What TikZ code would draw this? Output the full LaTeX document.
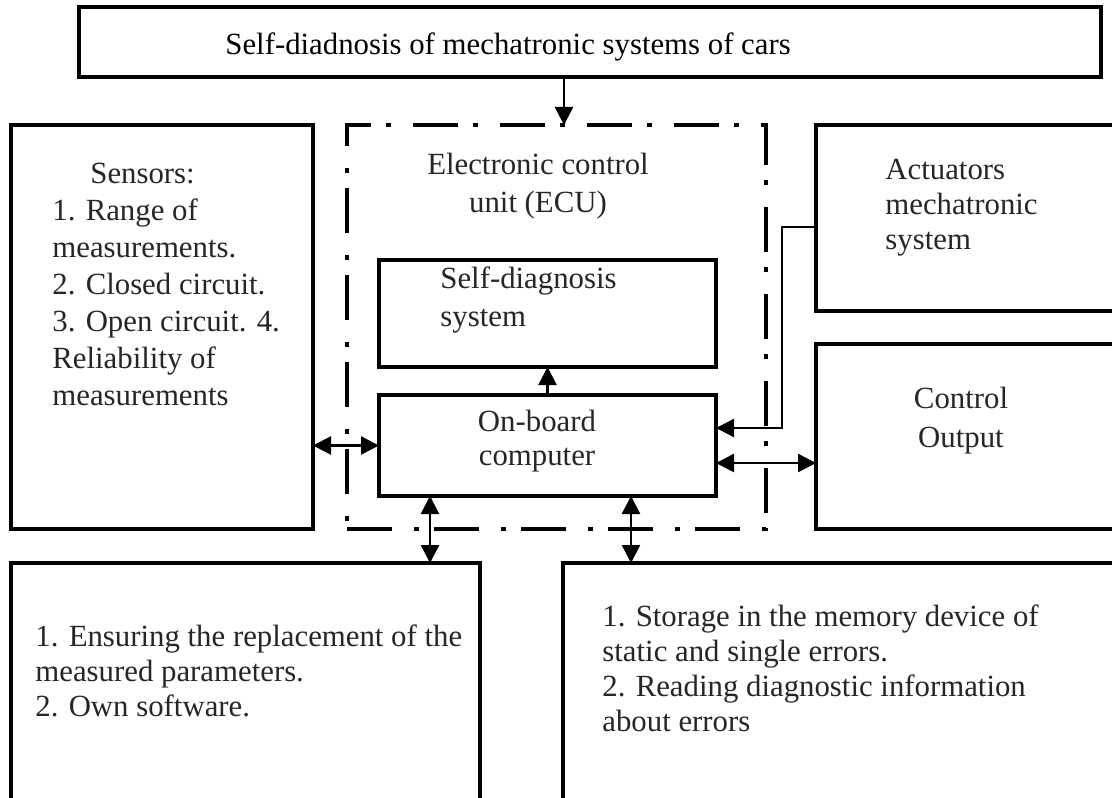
\documentclass[tikz,border=0pt]{standalone}
\usepackage{fontspec}
\setmainfont{Liberation Serif}
\usetikzlibrary{arrows.meta}

\tikzset{
  box/.style={draw, line width=1.7pt, rectangle, outer sep=0pt, inner sep=0pt},
  ecubox/.style={draw, line width=1.9pt, dash pattern=on 22.5pt off 11pt on 2.5pt off 7.5pt, outer sep=0pt, inner sep=0pt},
  txt/.style={inner sep=0pt, anchor=base west, align=left, text=black!85},
  link/.style={line width=1.3pt, -{Triangle[length=9pt,width=9pt]}},
  dlink/.style={line width=1.3pt, {Triangle[length=9pt,width=9pt]}-{Triangle[length=9pt,width=9pt]}}
}

\begin{document}
\begin{tikzpicture}[x=0.5pt, y=-0.5pt]
    % picture frame
    \fill[white] (0,0) rectangle (1112,797);
    \useasboundingbox (0,0) rectangle (1112,797);
    \clip (0,0) rectangle (1112,797);

    % Title box at the top
    \node[box, minimum width=511pt, minimum height=35pt] (title) at (590,42) {};
    \node[txt, text=black, font=\fontsize{15.4}{17.5}\selectfont] (titletxt) at (225,55) {Self-diadnosis of mechatronic systems of cars};

    % Electronic control unit with its two blocks
    % (base of a text with several lines = baseline of its last line)
    \node[ecubox, minimum width=209.5pt, minimum height=202pt] (ecu) at (556.5,327) {};
    \node[txt, anchor=base, align=center, font=\fontsize{15.4}{19}\selectfont] (ecutxt) at (538,212) {Electronic control\\unit (ECU)};
    \node[box, minimum width=168.5pt, minimum height=53.5pt] (selfdiag) at (547.5,313.5) {};
    \node[txt, font=\fontsize{15.4}{19}\selectfont] (selfdiagtxt) at (440,326) {Self-diagnosis\\system};
    \node[box, minimum width=168.5pt, minimum height=50.5pt] (onboard) at (547.5,445.5) {};
    \node[txt, anchor=base, align=center, font=\fontsize{15.4}{17}\selectfont] (onboardtxt) at (537,465) {On-board\\computer};

    % Sensors on the left
    \node[box, minimum width=151pt, minimum height=202pt] (sensors) at (162,327) {};
    \node[txt, font=\fontsize{15.4}{18.5}\selectfont] (sensorshead) at (90,183) {Sensors:};
    \node[txt, font=\fontsize{15.4}{18.5}\selectfont] (sensorstxt) at (52,405) {1. Range of\\measurements.\\2. Closed circuit.\\3. Open circuit. 4.\\Reliability of\\measurements};

    % Actuators and control output on the right
    \node[box, minimum width=157pt, minimum height=93pt] (act) at (973,218) {};
    \node[txt, font=\fontsize{15.4}{17.5}\selectfont] (acttxt) at (885,249) {Actuators\\mechatronic\\system};
    \node[box, minimum width=157pt, minimum height=92.5pt] (ctrl) at (973,436.5) {};
    \node[txt, anchor=base, align=center, font=\fontsize{15.4}{19.5}\selectfont] (ctrltxt) at (961,447) {Control\\Output};

    % Two boxes at the bottom
    \node[box, minimum width=234.5pt, minimum height=128.5pt] (repl) at (245.5,691.5) {};
    \node[txt, font=\fontsize{15.4}{17.5}\selectfont] (repltxt) at (35,716) {1. Ensuring the replacement of the\\measured parameters.\\2. Own software.};
    \node[box, minimum width=283.5pt, minimum height=128.5pt] (errs) at (846.5,691.5) {};
    \node[txt, font=\fontsize{15.4}{17.5}\selectfont] (errstxt) at (602,731) {1. Storage in the memory device of\\static and single errors.\\2. Reading diagnostic information\\about errors};

    % Connectors
    \coordinate (ecuin) at (564,125);
    \draw[link] (title.south -| ecuin) -- (ecuin);
    \draw[link] (onboard.north) -- (selfdiag.south);
    \draw[dlink] (sensors.east |- onboard.west) -- (onboard.west);
    \draw[dlink] ([yshift=-8.75pt]onboard.east) -- ([yshift=-8.75pt]onboard.east -| ctrl.west);
    \draw[link, line width=1.1pt] ([yshift=-4.5pt]act.west) -- ++(-34,0) |- ([yshift=8.75pt]onboard.east);
    \draw[dlink] ([xshift=25.5pt]onboard.south west) -- ([xshift=25.5pt]onboard.south west |- repl.north);
    \draw[dlink] ([xshift=-42.5pt]onboard.south east) -- ([xshift=-42.5pt]onboard.south east |- errs.north);
\end{tikzpicture}
\end{document}
